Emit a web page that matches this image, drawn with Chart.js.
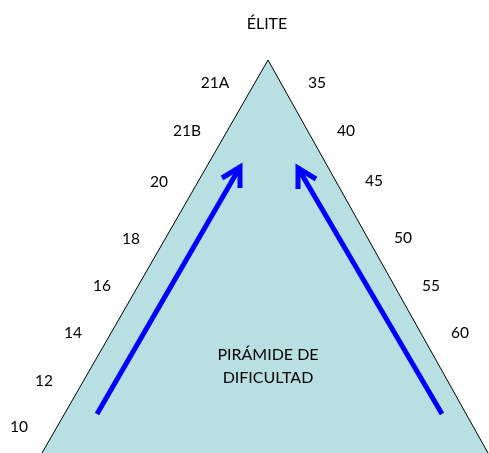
<!DOCTYPE html>
<html>
<head>
<meta charset="utf-8">
<script src="https://cdn.jsdelivr.net/npm/chart.js@4"></script>
<style>
  html, body { margin: 0; padding: 0; background: #fff; }
  #wrap { width: 489px; height: 453px; position: relative; }
</style>
</head>
<body>
<div id="wrap"><canvas id="pyramid"></canvas></div>
<script>
    // plane units: x to the right, y downward, same size as the picture
    const pyramidX = [42, 268, 488];
    const pyramidY = [453, 60, 453];

    const leftGrades = ["21A", "21B", "20", "18", "16", "14", "12", "10"];
    const leftGradeX = [215, 187, 159, 131, 102, 73, 44, 19];
    const leftGradeY = [83, 131, 182, 239, 286, 333, 381, 427];

    const rightGrades = ["35", "40", "45", "50", "55", "60"];
    const rightGradeX = [317, 346, 374, 403, 431, 460];
    const rightGradeY = [83, 131, 181, 238, 286, 333];

    const topTitle = "ÉLITE";
    const centerTitle = ["PIRÁMIDE DE", "DIFICULTAD"];

    // arrows: [tail, tip], head arms
    const leftArrowX = [97, 240];
    const leftArrowY = [414, 167];
    const leftHeadX = [222, 240, 240];
    const leftHeadY = [178, 167, 188];
    const rightArrowX = [442, 298];
    const rightArrowY = [414, 168];
    const rightHeadX = [298, 298, 316];
    const rightHeadY = [189, 168, 179];

    const FILL = "#b8dfe2";
    const BLUE = "#0000ff";
    const FONT = "Lato, 'Open Sans', sans-serif";

    const pts = (xs, ys) => xs.map((x, i) => ({ x, y: ys[i] }));

    function lineSet(data, color, width, extra) {
        return Object.assign({
            data,
            showLine: true,
            borderColor: color,
            borderWidth: width,
            pointRadius: 0,
            fill: false,
            tension: 0,
            clip: false,
            order: 0,
        }, extra || {});
    }

    const textPlugin = {
        id: "grades",
        afterDatasetsDraw(chart) {
            const { ctx, scales: { x, y } } = chart;
            ctx.save();
            ctx.fillStyle = "#000";
            ctx.textAlign = "center";
            ctx.textBaseline = "middle";
            ctx.font = "15.5px " + FONT;
            leftGrades.forEach((t, i) => ctx.fillText(t, x.getPixelForValue(leftGradeX[i]), y.getPixelForValue(leftGradeY[i])));
            rightGrades.forEach((t, i) => ctx.fillText(t, x.getPixelForValue(rightGradeX[i]), y.getPixelForValue(rightGradeY[i])));
            ctx.font = "16px " + FONT;
            ctx.fillText(topTitle, x.getPixelForValue(267), y.getPixelForValue(24));
            ctx.fillText(centerTitle[0], x.getPixelForValue(268), y.getPixelForValue(355));
            ctx.fillText(centerTitle[1], x.getPixelForValue(268), y.getPixelForValue(378));
            ctx.restore();
        }
    };

    new Chart(document.getElementById("pyramid"), {
        type: "scatter",
        data: {
            datasets: [
                lineSet(pts(pyramidX, pyramidY), "#000", 1, { fill: { value: 453 }, backgroundColor: FILL, order: 10 }),
                lineSet(pts(leftArrowX, leftArrowY), BLUE, 5),
                lineSet(pts(leftHeadX, leftHeadY), BLUE, 5, { borderJoinStyle: "miter" }),
                lineSet(pts(rightArrowX, rightArrowY), BLUE, 5),
                lineSet(pts(rightHeadX, rightHeadY), BLUE, 5, { borderJoinStyle: "miter" }),
            ]
        },
        options: {
            responsive: true,
            maintainAspectRatio: false,
            animation: false,
            layout: { padding: 0 },
            plugins: { legend: { display: false }, tooltip: { enabled: false } },
            scales: {
                x: { type: "linear", min: 0, max: 489, display: false },
                y: { type: "linear", min: 0, max: 453, reverse: true, display: false }
            }
        },
        plugins: [textPlugin]
    });
</script>
</body>
</html>
